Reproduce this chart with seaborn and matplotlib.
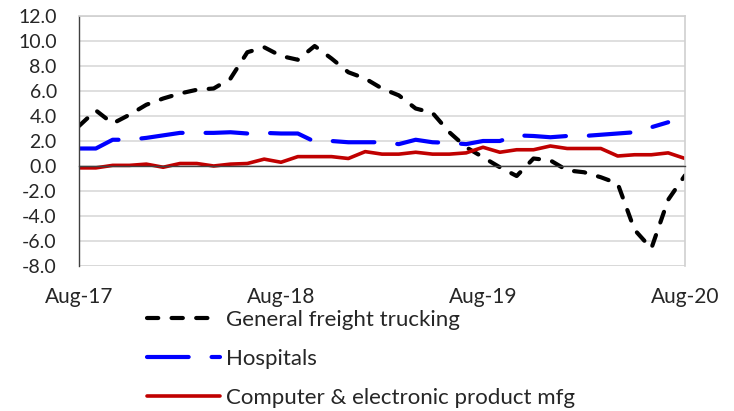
import numpy as np
import pandas as pd
import seaborn as sns
import matplotlib.pyplot as plt

# monthly values, Aug-17 .. Aug-20
months = pd.date_range("2017-08-01", "2020-08-01", freq="MS")
tick_labels = ["Aug-17", "Aug-18", "Aug-19", "Aug-20"]

trucking = [3.2, 4.45, 3.4, 4.1, 4.9, 5.4, 5.8, 6.1, 6.2, 7.0,
            9.1, 9.5, 8.8, 8.5, 9.6, 8.6, 7.5, 7.0, 6.2, 5.65,
            4.6, 4.25, 2.7, 1.5, 0.7, -0.1, -0.8, 0.6, 0.45, -0.35,
            -0.5, -0.9, -1.4, -5.1, -6.6, -2.7, -0.75]
hospitals = [1.4, 1.4, 2.1, 2.1, 2.25, 2.45, 2.65, 2.65, 2.65, 2.7,
             2.6, 2.65, 2.6, 2.6, 1.95, 2.0, 1.9, 1.9, 1.9, 1.75,
             2.1, 1.9, 1.85, 1.75, 2.0, 2.0, 2.45, 2.4, 2.3, 2.4,
             2.4, 2.5, 2.6, 2.7, 3.1, 3.5, np.nan]
computers = [-0.15, -0.15, 0.05, 0.05, 0.15, -0.1, 0.2, 0.2, 0.0, 0.15,
             0.2, 0.55, 0.3, 0.75, 0.75, 0.75, 0.6, 1.15, 0.95, 0.95,
             1.1, 0.95, 0.95, 1.05, 1.5, 1.1, 1.3, 1.3, 1.6, 1.4,
             1.4, 1.4, 0.8, 0.9, 0.9, 1.05, 0.6]

series_names = ["General freight trucking", "Hospitals",
                "Computer & electronic product mfg"]

sns.set_style("white")
plt.rcParams["font.family"] = ["Lato", "DejaVu Sans"]
plt.rcParams["axes.unicode_minus"] = False

fig = plt.figure(figsize=(7.34, 4.11), dpi=100)
ax = fig.add_axes([79 / 734, (411 - 266) / 411, 606 / 734, 250 / 411])

x = np.arange(len(months))
df = pd.DataFrame({"x": x, series_names[0]: trucking,
                   series_names[1]: hospitals, series_names[2]: computers})

styles = [
    ("black", 3.0, (2.7, 3.2)),
    ("#0000ff", 3.0, (10.0, 5.5)),
    ("#c00000", 2.6, None),
]
for name, (color, lw, dash) in zip(series_names, styles):
    sns.lineplot(data=df, x="x", y=name, ax=ax, color=color, linewidth=lw,
                 label=name)
    line = ax.lines[-1]
    if dash is not None:
        line.set_dashes(dash)
    line.set_dash_capstyle("round")
    line.set_solid_capstyle("round")

ax.set_xlim(0, 36)
ax.set_ylim(-8, 12)
ax.set_yticks(np.arange(-8, 13, 2))
ax.set_yticklabels([f"{v:.1f}" for v in np.arange(-8, 13, 2)], fontsize=14)
ax.grid(axis="y", color="#d9d9d9", linewidth=1.2)
ax.set_axisbelow(True)
ax.set_xlabel("")
ax.set_ylabel("")

for s in ["top", "right"]:
    ax.spines[s].set_color("#d0d0d0")
    ax.spines[s].set_linewidth(1.2)
ax.spines["left"].set_color("#404040")
ax.spines["left"].set_linewidth(1.0)
ax.spines["bottom"].set_position(("data", 0))
ax.spines["bottom"].set_color("#404040")
ax.spines["bottom"].set_linewidth(1.0)
ax.axhline(-8, color="#d0d0d0", linewidth=1.8, zorder=0)

ax.set_xticks([0, 12, 24, 36])
ax.tick_params(axis="x", direction="inout", length=9, width=1.0,
               color="#404040", labelbottom=False)
ax.tick_params(axis="y", length=0, pad=16)

for pos, lab in zip([0, 12, 24, 36], tick_labels):
    ax.text(pos, -0.124, lab, transform=ax.get_xaxis_transform(),
            ha="center", va="center", fontsize=15)

ax.legend(loc="upper left", bbox_to_anchor=(147 / 734, 1 - 310 / 411),
          bbox_transform=fig.transFigure, frameon=False, fontsize=16,
          handlelength=3.3, handletextpad=0.27, labelspacing=0.86,
          borderpad=0, borderaxespad=0)

fig.savefig("out.png", dpi=100)
